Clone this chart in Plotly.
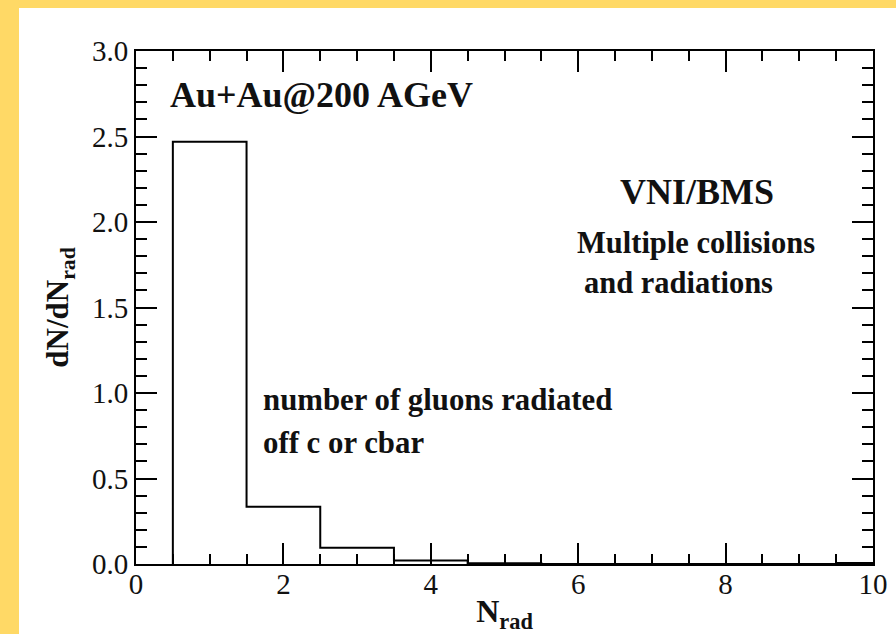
import plotly.graph_objects as go

# Radiated-gluon multiplicity per charm quark, Au+Au at 200 AGeV
n_rad = [1, 2, 3, 4, 5, 6, 7, 8, 9, 10]
dn_dnrad = [2.47, 0.335, 0.095, 0.02, 0.005, 0.0, 0.0, 0.0, 0.0, 0.006]
bin_width = 1.0

x_ticks = [0, 2, 4, 6, 8, 10]
y_ticks = [0.0, 0.5, 1.0, 1.5, 2.0, 2.5, 3.0]

# step outline: rise at the first edge, then one flat segment per bin
left_edges = [c - bin_width / 2 for c in n_rad]
xs = [left_edges[0]] + left_edges + [n_rad[-1] + bin_width / 2]
ys = [0.0] + dn_dnrad + [dn_dnrad[-1]]

SERIF = "Liberation Serif"
INK = "#111111"

fig = go.Figure()
fig.add_trace(go.Scatter(
    x=xs, y=ys, mode="lines", line_shape="hv",
    line=dict(color="black", width=2), showlegend=False, hoverinfo="skip",
))

axis_common = dict(
    showline=True, linecolor="black", linewidth=2, mirror="allticks",
    ticks="inside", tickcolor="black", tickwidth=2, ticklen=21,
    showgrid=False, zeroline=False, automargin=False,
    tickfont=dict(family=SERIF, size=29, color=INK),
)

fig.update_xaxes(
    range=[0, 10], tickvals=x_ticks, ticktext=[str(v) for v in x_ticks],
    ticklabelstandoff=-7,
    minor=dict(dtick=0.5, ticks="inside", ticklen=10, tickwidth=2, tickcolor="black"),
    title=dict(text="<b>N<sub>rad</sub></b>", font=dict(family=SERIF, size=32, color=INK), standoff=11),
    **axis_common,
)
fig.update_yaxes(
    range=[0, 3], tickvals=y_ticks, ticktext=[f"{v:.1f}" for v in y_ticks],
    minor=dict(dtick=0.1, ticks="inside", ticklen=11, tickwidth=2, tickcolor="black"),
    title=dict(text="<b>dN/dN<sub>rad</sub></b>", font=dict(family=SERIF, size=31, color=INK), standoff=14),
    **axis_common,
)

notes = [
    ("Au+Au@200 AGeV", 0.434, 2.745, "left", 36),
    ("VNI/BMS", 7.61, 2.175, "center", 36),
    ("Multiple collisions", 5.95, 1.88, "left", 30.5),
    ("and radiations", 6.05, 1.645, "left", 30.5),
    ("number of gluons radiated", 1.70, 0.96, "left", 30.8),
    ("off c or cbar", 1.70, 0.71, "left", 30.8),
]
for text, x, y, anchor, size in notes:
    fig.add_annotation(
        x=x, y=y, xref="x", yref="y", text=f"<b>{text}</b>", showarrow=False,
        xanchor=anchor, yanchor="middle",
        font=dict(family=SERIF, size=size, color=INK),
    )

# white sheet over the yellow page, leaving a band on the left and top
fig.add_shape(
    type="rect", xref="paper", yref="paper", layer="below",
    x0=(19 - 136) / 737, x1=1.1, y0=-0.2, y1=(564 - 8) / 513,
    fillcolor="white", line=dict(width=0),
)

fig.update_layout(
    width=896, height=634,
    margin=dict(l=136, r=23, t=51, b=70),
    paper_bgcolor="#FFD966", plot_bgcolor="white",
    font=dict(family=SERIF, color=INK),
)

fig.write_html("out.html")
